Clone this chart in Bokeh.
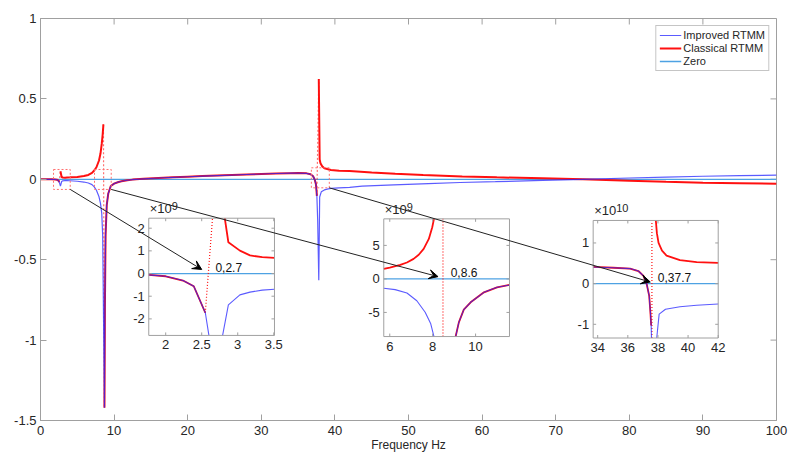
import math
from bokeh.plotting import figure
from bokeh.models import Range1d, FixedTicker, Legend, LegendItem, Label, Arrow, VeeHead
from bokeh.core.properties import value
from bokeh.embed import file_html
from bokeh.resources import INLINE

# ---------------- data (main plot: Delta in units of 1e11) ----------------
x_ticks = [0, 10, 20, 30, 40, 50, 60, 70, 80, 90, 100]
y_ticks = [-1.5, -1.0, -0.5, 0.0, 0.5, 1.0]
y_tick_labels = ["-1.5", "-1", "-0.5", "0", "0.5", "1"]

zero_f = [0, 100]
zero_v = [0, 0]

red_a_f = [0, 0.5, 1.0, 1.5, 2.0, 2.24, 2.39, 2.55]
red_a = [0.0, -0.0001, -0.0002, -0.0003, -0.0012, -0.0031, -0.0056, -0.0173]
red_b_f = [2.71, 2.87, 3.03, 3.34, 3.6, 4.0, 5.0, 5.9, 6.5, 7.0, 7.3, 7.6, 7.95, 8.15, 8.32, 8.45, 8.55]
red_b = [0.05, 0.014, 0.011, 0.01, 0.011, 0.012, 0.015, 0.02, 0.027, 0.04, 0.055, 0.075, 0.117, 0.16, 0.22, 0.28, 0.342]
red_d_f = [37.81, 37.93, 38.04, 38.27, 38.57, 39.46, 40.57, 42, 45, 48.2, 52, 57.3, 62, 68.2, 73.7, 80, 85, 90, 95, 100]
red_d = [0.624, 0.124, 0.1, 0.081, 0.069, 0.058, 0.053, 0.051, 0.043, 0.035, 0.027, 0.018, 0.012, 0.006, 0.0,
         -0.009, -0.016, -0.021, -0.024, -0.027]

# segment where both methods coincide
both_c_f = [8.69, 8.75, 8.84, 9.0, 9.2, 9.55, 10.0, 10.5, 11.0, 11.8, 12.5, 14, 16, 18, 20, 22, 25, 28, 30, 32,
            34, 35, 36.15, 36.7, 37.04, 37.26, 37.42, 37.5, 37.55]
both_c = [-1.42, -0.8, -0.35, -0.16, -0.09, -0.042, -0.027, -0.018, -0.012, -0.006, -0.002, 0.003, 0.008, 0.012,
          0.016, 0.02, 0.025, 0.03, 0.033, 0.036, 0.038, 0.039, 0.037, 0.031, 0.019, -0.002, -0.03, -0.071, -0.103]

blue_a_f = [0, 0.5, 1.0, 1.5, 2.0, 2.24, 2.39, 2.55, 2.71, 2.87, 3.03, 3.34, 3.6, 4.0, 5.0, 5.9, 6.5, 7.0, 7.3,
            7.6, 7.95, 8.15, 8.32, 8.45, 8.55]
blue_a = [0.0, -0.0001, -0.0002, -0.0003, -0.0012, -0.0031, -0.0056, -0.0173, -0.042, -0.0138, -0.0094, -0.0075,
          -0.008, -0.009, -0.012, -0.017, -0.023, -0.033, -0.047, -0.068, -0.109, -0.15, -0.21, -0.35, -0.8]
blue_d_f = [37.66, 37.81, 37.93, 38.15, 38.57, 39.1, 39.46, 40.57, 42, 43.7, 48, 52.7, 57, 61.8, 68.2, 73.7, 80,
            85, 90, 95, 100]
blue_d = [-0.25, -0.627, -0.11, -0.078, -0.066, -0.06, -0.057, -0.053, -0.05, -0.043, -0.035, -0.027, -0.02,
          -0.015, -0.007, 0.0, 0.008, 0.014, 0.019, 0.023, 0.026]

# zoom boxes in the main plot
box_left = [1.77, 7.34, 36.8]
box_right = [4.04, 9.61, 39.24]
box_bottom = [-0.063, -0.063, -0.053]
box_top = [0.061, 0.061, 0.0715]

# ---------------- inset data ----------------
# inset 1 (x1e9)
in1_both_f = [1.765, 2.0, 2.24, 2.39, 2.55]
in1_both = [-0.06, -0.12, -0.31, -0.56, -1.73]
in1_blue_l_f = [2.55, 2.6]
in1_blue_l = [-1.73, -2.73]
in1_blue_r_f = [2.79, 2.87, 3.03, 3.17, 3.34, 3.51]
in1_blue_r = [-2.73, -1.38, -0.94, -0.82, -0.73, -0.69]
in1_red_jump_f = [2.55, 2.65]
in1_red_jump = [-1.73, 2.44]
in1_red_r_f = [2.82, 2.87, 3.03, 3.17, 3.34, 3.51]
in1_red_r = [2.44, 1.38, 1.01, 0.8, 0.72, 0.69]

# inset 2 (x1e9)
in2_red_l_f = [5.72, 6.0, 6.49, 6.8, 7.11, 7.35, 7.58, 7.82, 7.98, 8.06]
in2_red_l = [1.49, 1.7, 2.09, 2.45, 2.99, 3.6, 4.48, 5.97, 7.7, 8.96]
in2_blue_l_f = [5.72, 6.25, 6.8, 7.26, 7.65, 7.91, 8.06]
in2_blue_l = [-1.4, -1.6, -2.1, -3.25, -4.98, -6.7, -8.6]
in2_both_r_f = [9.07, 9.22, 9.45, 9.77, 10.39, 11.0, 11.58]
in2_both_r = [-8.6, -6.48, -4.58, -3.49, -2.0, -1.25, -0.9]
in2_red_jump_f = [8.48, 8.48]
in2_red_jump = [-8.6, 8.96]

# inset 3 (x1e10)
in3_both_l_f = [33.7, 35.04, 36.15, 36.7, 37.04, 37.26, 37.42, 37.5, 37.55]
in3_both_l = [0.41, 0.39, 0.37, 0.31, 0.19, -0.02, -0.3, -0.71, -1.03]
in3_blue_l_f = [37.55, 37.57]
in3_blue_l = [-1.03, -1.337]
in3_blue_r_f = [37.92, 38.08, 38.5, 39.46, 40.57, 42.0]
in3_blue_r = [-1.337, -0.75, -0.63, -0.57, -0.53, -0.5]
in3_red_jump_f = [37.6, 37.6]
in3_red_jump = [-1.337, 1.553]
in3_red_r_f = [37.86, 37.93, 38.04, 38.27, 38.57, 39.46, 40.57, 42.0]
in3_red_r = [1.553, 1.24, 1.0, 0.81, 0.69, 0.58, 0.53, 0.51]

inset_xr = [(1.765, 3.51), (5.72, 11.58), (33.7, 42.0)]
inset_yr = [(-2.73, 2.44), (-8.6, 8.96), (-1.337, 1.553)]
inset_xticks = [[2, 2.5, 3, 3.5], [6, 8, 10], [34, 36, 38, 40, 42]]
inset_xlabels = [["2", "2.5", "3", "3.5"], ["6", "8", "10"], ["34", "36", "38", "40", "42"]]
inset_yticks = [[-2, -1, 0, 1, 2], [-5, 0, 5], [-1, 0, 1]]
inset_ylabels = [["-2", "-1", "0", "1", "2"], ["-5", "0", "5"], ["-1", "0", "1"]]
inset_exp = ["9", "9", "10"]
callout_text = ["0,2.7", "0,8.6", "0,37.7"]
callout_pos = [(2.69, 0.26), (8.84, 0.9), (37.99, 0.14)]
arrow_tip = [(2.5, 0.18), (8.25, 0.34), (37.49, 0.04)]

# where the insets sit inside the main axes (main data units)
inset_tx = [(14.71, 31.79), (46.64, 63.72), (75.09, 92.08)]
inset_ty = [(-0.971, -0.242), (-0.978, -0.246), (-0.987, -0.256)]

# ---------------- styling ----------------
FONT = "Liberation Sans"
TXT = "#262626"
AX = "#a0a0a0"
BLUE = "#2424ff"
RED = "#ff1010"
ZERO = "#4ea2e3"
PINK = "#ff7070"

p = figure(width=789, height=457, output_backend="svg", toolbar_location=None,
           x_range=Range1d(0, 100), y_range=Range1d(-1.5, 1.0),
           min_border_left=40, min_border_right=13, min_border_top=18, min_border_bottom=37)
p.background_fill_color = "white"
p.border_fill_color = "white"
p.outline_line_color = AX
p.xgrid.visible = False
p.ygrid.visible = False

for ax in (p.xaxis, p.yaxis):
    ax.axis_line_color = AX
    ax.major_tick_line_color = AX
    ax.major_tick_in = 6
    ax.major_tick_out = 0
    ax.minor_tick_line_color = None
    ax.major_label_text_font = FONT
    ax.major_label_text_font_size = "13px"
    ax.major_label_text_color = TXT

p.xaxis.ticker = FixedTicker(ticks=x_ticks)
p.xaxis.major_label_standoff = 5
p.xaxis.axis_label = "Frequency Hz"
p.xaxis.axis_label_text_font = FONT
p.xaxis.axis_label_text_font_size = "12px"
p.xaxis.axis_label_text_font_style = "normal"
p.xaxis.axis_label_text_color = TXT
p.xaxis.axis_label_standoff = 0

p.yaxis.ticker = FixedTicker(ticks=y_ticks)
p.yaxis.major_label_overrides = {t: s for t, s in zip(y_ticks, y_tick_labels)}
p.yaxis.major_label_standoff = 4

# ticks on top and right of the box
p.ray(x=x_ticks, y=[p.y_range.end] * len(x_ticks), length=6, length_units="screen",
      angle=-math.pi / 2, line_color=AX, line_width=1)
p.ray(x=[p.x_range.end] * len(y_ticks), y=y_ticks, length=6, length_units="screen",
      angle=math.pi, line_color=AX, line_width=1)

# ---------------- main curves ----------------
zero_r = p.line(zero_f, zero_v, line_color=ZERO, line_width=1.3)
branches = [(red_a_f, red_a), (red_b_f, red_b), (both_c_f, both_c), (red_d_f, red_d)]
red_rs = [p.line(xs, ys, line_color=RED, line_width=2) for xs, ys in branches]
p.segment(x0=[b[0][-1] for b in branches[:-1]], y0=[b[1][-1] for b in branches[:-1]],
          x1=[b[0][0] for b in branches[1:]], y1=[b[1][0] for b in branches[1:]],
          line_color=RED, line_width=1.2, line_dash="2 2", line_alpha=0.6)
blue_r = p.line(blue_a_f + both_c_f + blue_d_f, blue_a + both_c + blue_d, line_color=BLUE,
                line_width=1.2, line_alpha=0.75)

p.quad(left=box_left, right=box_right, bottom=box_bottom, top=box_top,
       fill_color=None, line_color=PINK, line_dash="2 2", line_width=1)

# ---------------- insets ----------------
inset_series = [
    dict(red=[(in1_both_f, in1_both), (in1_red_r_f, in1_red_r)],
         jump=(in1_red_jump_f, in1_red_jump),
         blue=[(in1_both_f + in1_blue_l_f, in1_both + in1_blue_l), (in1_blue_r_f, in1_blue_r)]),
    dict(red=[(in2_red_l_f, in2_red_l), (in2_both_r_f, in2_both_r)],
         jump=(in2_red_jump_f, in2_red_jump),
         blue=[(in2_blue_l_f, in2_blue_l), (in2_both_r_f, in2_both_r)]),
    dict(red=[(in3_both_l_f, in3_both_l), (in3_red_r_f, in3_red_r)],
         jump=(in3_red_jump_f, in3_red_jump),
         blue=[(in3_both_l_f + in3_blue_l_f, in3_both_l + in3_blue_l), (in3_blue_r_f, in3_blue_r)]),
]

def to_main(k, x, y):
    xs0, xs1 = inset_xr[k]
    ys0, ys1 = inset_yr[k]
    tx0, tx1 = inset_tx[k]
    ty0, ty1 = inset_ty[k]
    return (tx0 + (x - xs0) / (xs1 - xs0) * (tx1 - tx0),
            ty0 + (y - ys0) / (ys1 - ys0) * (ty1 - ty0))

for k in range(3):
    x0, x1 = inset_xr[k]
    y0, y1 = inset_yr[k]
    sub = p.subplot(x_source=Range1d(x0, x1), y_source=Range1d(y0, y1),
                    x_target=Range1d(*inset_tx[k]), y_target=Range1d(*inset_ty[k]))
    sub.quad(left=[x0], right=[x1], bottom=[y0], top=[y1], fill_color="white", line_color=None)
    sub.line([x0, x1], [0, 0], line_color=ZERO, line_width=1.3)
    ser = inset_series[k]
    for xs, ys in ser["red"]:
        sub.line(xs, ys, line_color=RED, line_width=1.8)
    sub.line(ser["jump"][0], ser["jump"][1], line_color=RED, line_width=1.2, line_dash="1 2")
    for xs, ys in ser["blue"]:
        sub.line(xs, ys, line_color=BLUE, line_width=1.1, line_alpha=0.75)
    # frame
    sub.quad(left=[x0], right=[x1], bottom=[y0], top=[y1], fill_color=None, line_color=AX, line_width=1)
    xt = inset_xticks[k]
    yt = inset_yticks[k]
    sub.ray(x=xt, y=[y0] * len(xt), length=3, length_units="screen", angle=math.pi / 2, line_color=AX)
    sub.ray(x=xt, y=[y1] * len(xt), length=3, length_units="screen", angle=-math.pi / 2, line_color=AX)
    sub.ray(x=[x0] * len(yt), y=yt, length=3, length_units="screen", angle=0, line_color=AX)
    sub.ray(x=[x1] * len(yt), y=yt, length=3, length_units="screen", angle=math.pi, line_color=AX)
    sub.text(x=xt, y=[y0] * len(xt), text=inset_xlabels[k], text_align="center", text_baseline="top",
             y_offset=5, text_font=value(FONT), text_font_size="13px", text_color=TXT)
    sub.text(x=[x0] * len(yt), y=yt, text=inset_ylabels[k], text_align="right", text_baseline="middle",
             x_offset=-4, text_font=value(FONT), text_font_size="13px", text_color=TXT)
    sub.text(x=[x0], y=[y1], text=["×10"], text_align="left", text_baseline="bottom", x_offset=1,
             y_offset=-2, text_font=value(FONT), text_font_size="13px", text_color=TXT)
    sub.text(x=[x0], y=[y1], text=[inset_exp[k]], text_align="left", text_baseline="bottom", x_offset=23,
             y_offset=-8, text_font=value(FONT), text_font_size="11px", text_color=TXT)
    cx, cy = callout_pos[k]
    sub.text(x=[cx], y=[cy], text=[callout_text[k]], text_align="left", text_baseline="middle",
             text_font=value(FONT), text_font_size="12px", text_color="#111111")

# arrows from zoom boxes to insets
for k in range(3):
    ex, ey = to_main(k, *arrow_tip[k])
    p.add_layout(Arrow(end=VeeHead(size=9, fill_color="black", line_color="black", line_width=1),
                       x_start=box_right[k], y_start=box_bottom[k], x_end=ex, y_end=ey,
                       line_color="#222222", line_width=1))

# y label and exponent of the main axes
p.add_layout(Label(x=-2.85, y=-0.262, text="Delta", angle=math.pi / 2, text_align="center",
                   text_baseline="bottom", text_font=FONT, text_font_size="12px", text_color=TXT))
p.add_layout(Label(x=0, y=1.0, text="×10", text_align="left", text_baseline="bottom", x_offset=1,
                   y_offset=2, text_font=FONT, text_font_size="13px", text_color=TXT))
p.add_layout(Label(x=0, y=1.0, text="11", text_align="left", text_baseline="bottom", x_offset=23,
                   y_offset=7, text_font=FONT, text_font_size="10px", text_color=TXT))

legend = Legend(items=[LegendItem(label="Improved RTMM", renderers=[blue_r]),
                       LegendItem(label="Classical RTMM", renderers=[red_rs[1]]),
                       LegendItem(label="Zero", renderers=[zero_r])],
                location="top_right", margin=7, padding=3, spacing=1,
                glyph_width=22, glyph_height=12, label_height=12, label_standoff=2,
                label_text_font=FONT, label_text_font_size="11px", label_text_color=TXT,
                border_line_color="#8c8c8c", border_line_width=1,
                background_fill_color="white", background_fill_alpha=1.0)
p.add_layout(legend)

open("out.html", "w").write(file_html(p, INLINE))
